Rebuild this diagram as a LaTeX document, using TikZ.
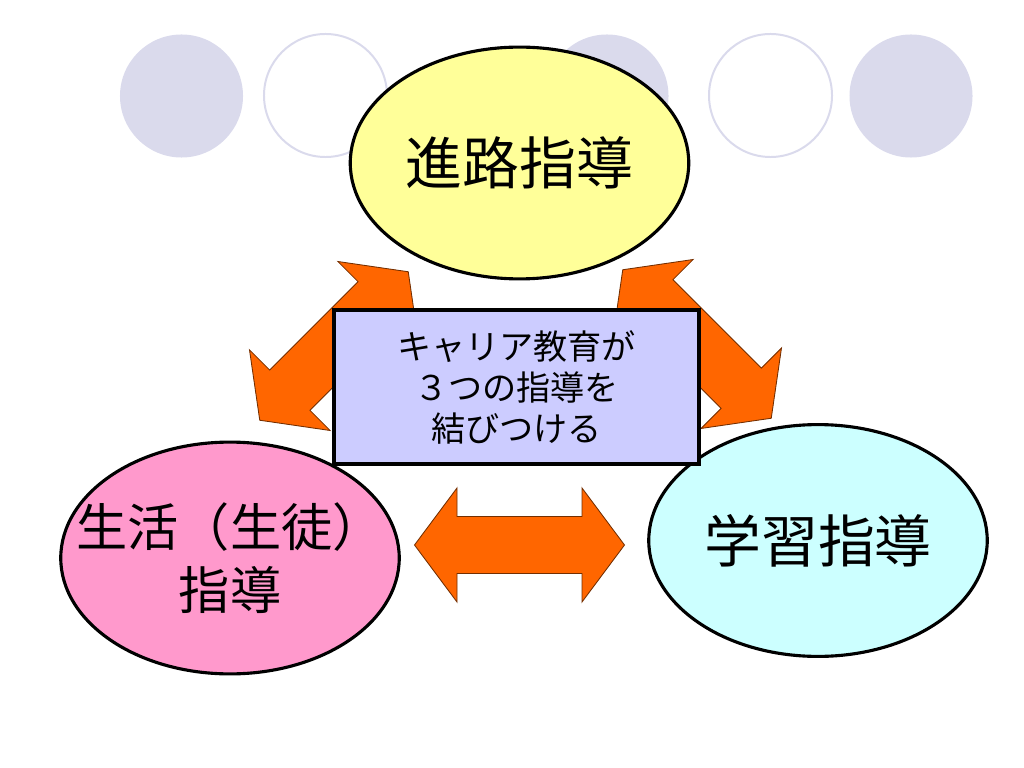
\documentclass[tikz,border=0pt]{standalone}
\usepackage{fontspec}
\newfontfamily\jp{Noto Sans CJK JP}
\usetikzlibrary{shapes.geometric}
\definecolor{dotgray}{RGB}{218,218,236}
\definecolor{pathyellow}{RGB}{255,255,153}
\definecolor{lifepink}{RGB}{255,153,204}
\definecolor{studycyan}{RGB}{204,255,255}
\definecolor{careerblue}{RGB}{204,204,255}
\definecolor{linkorange}{RGB}{255,102,0}
\tikzset{pics/linkarrow/.style={code={
  \draw[fill=linkorange, draw=black!55!linkorange, line width=0.6pt]
    (-105,0) -- (-62.5,-57) -- (-62.5,-28.5) -- (62.5,-28.5) -- (62.5,-57) -- (105,0)
    -- (62.5,57) -- (62.5,28.5) -- (-62.5,28.5) -- (-62.5,57) -- cycle;}}}

\begin{document}
\begin{tikzpicture}[x=0.703125pt, y=-0.703125pt,
  dot/.style={circle, fill=dotgray, minimum size=86.5pt, inner sep=0pt},
  ring/.style={circle, draw=dotgray, line width=1.4pt, fill=white, minimum size=86.5pt, inner sep=0pt},
  field/.style={ellipse, draw, line width=2.2pt, minimum width=238pt, minimum height=163pt, inner sep=0pt},
  fieldtext/.style={font=\jp\fontsize{40}{48}\selectfont, align=center},
  lifetext/.style={font=\jp\fontsize{36}{44.6}\selectfont, align=center},
  careerbox/.style={rectangle, draw, line width=2.6pt, fill=careerblue, minimum width=256.6pt, minimum height=108.3pt, inner sep=0pt, font=\jp\fontsize{24}{28.8}\selectfont, align=center}]
  \useasboundingbox (0,0) rectangle (1024,768);
%
  \node[dot]  (c1) at (181.5,96) {};
  \node[ring] (c2) at (325.5,95.5) {};
  \node[dot]  (c3) at (607,96) {};
  \node[ring] (c4) at (770.5,95.5) {};
  \node[dot]  (c5) at (911,96) {};
%
  \node[field, fill=pathyellow, label={[fieldtext]center:進路指導}] (path) at (519.5,163) {};
  \node[field, fill=lifepink, label={[lifetext]center:生活（生徒）\\指導}] (life) at (230,558) {};
  \node[field, fill=studycyan, label={[fieldtext]center:学習指導}] (study) at (818,540.5) {};
%
  \pic[rotate=45]  (linkL) at (334,346) {linkarrow};
  \pic[rotate=-45] (linkR) at (697,344) {linkarrow};
  \pic             (linkB) at (519.5,545) {linkarrow};
%
  \node[careerbox] (career) at (516.5,387) {キャリア教育が\\３つの指導を\\結びつける};
\end{tikzpicture}
\end{document}
